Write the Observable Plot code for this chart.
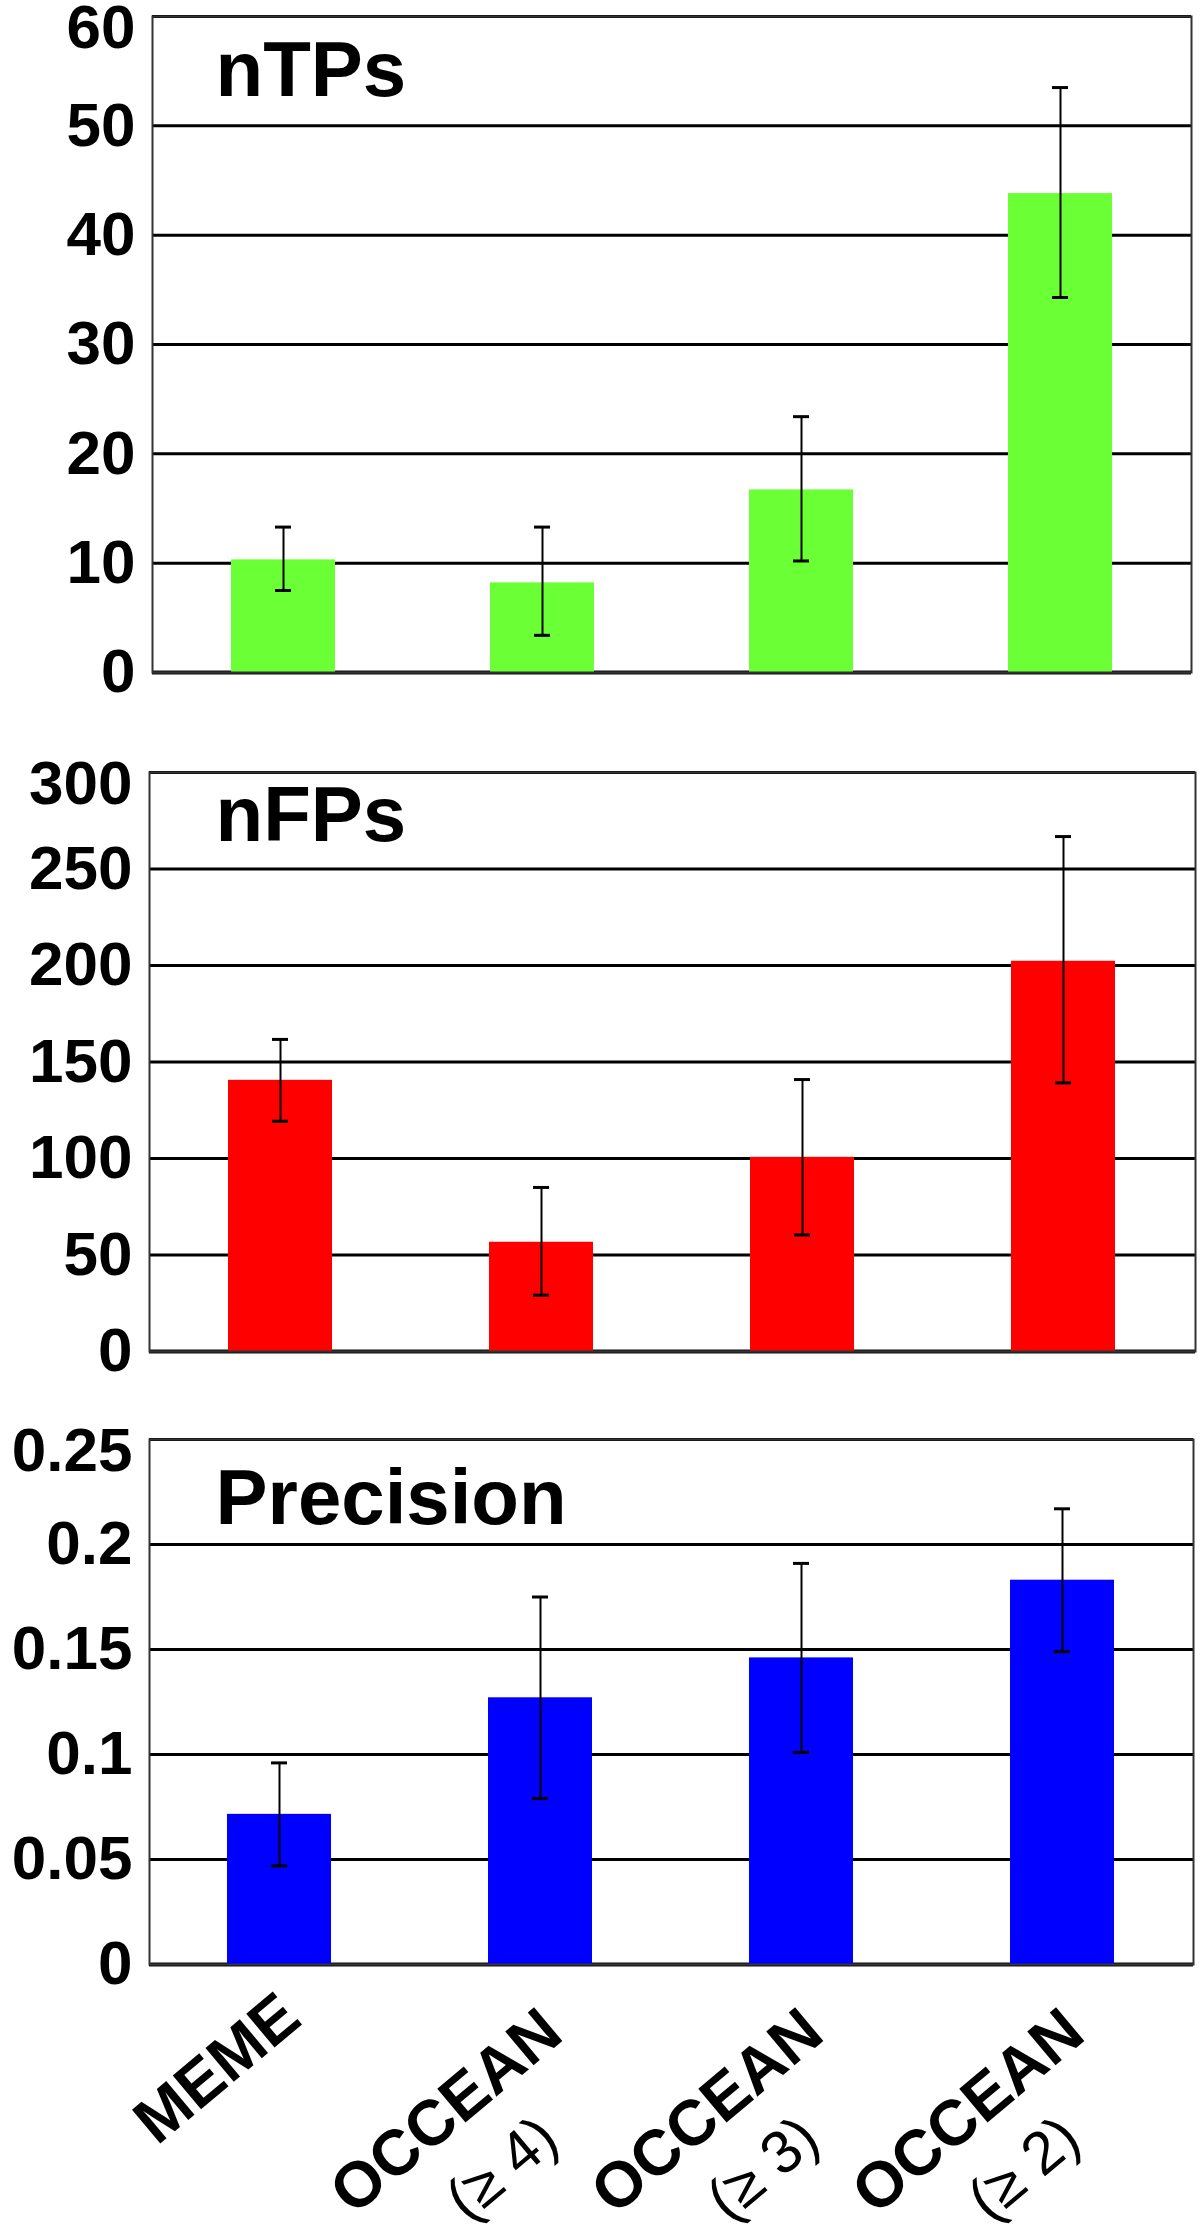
<!DOCTYPE html>
<html><head><meta charset="utf-8">
<script src="https://cdn.jsdelivr.net/npm/d3@7"></script>
<script src="https://cdn.jsdelivr.net/npm/@observablehq/plot@0.6"></script>
<style>
html,body{margin:0;padding:0;background:#fff}
#chart svg{display:block}
</style>
</head><body><div id="chart"></div>
<script>
// ---- data ----
const categories = ["MEME", "OCCEAN (≥ 4)", "OCCEAN (≥ 3)", "OCCEAN (≥ 2)"];
const labelLine1 = ["MEME", "OCCEAN", "OCCEAN", "OCCEAN"];
const labelLine2 = ["", "(≥ 4)", "(≥ 3)", "(≥ 2)"];

const nTPs     = [10.3, 8.2, 16.7, 43.8];
const nTPsLow  = [7.5, 3.4, 10.2, 34.3];
const nTPsHigh = [13.3, 13.3, 23.4, 53.5];

const nFPs     = [140.5, 56.6, 100.6, 202.2];
const nFPsLow  = [119.3, 29.2, 60.4, 139.2];
const nFPsHigh = [161.7, 85, 140.9, 266.8];

const precision     = [0.0715, 0.127, 0.146, 0.183];
const precisionLow  = [0.047, 0.079, 0.101, 0.149];
const precisionHigh = [0.096, 0.175, 0.191, 0.217];

const nTPsTicks = [0, 10, 20, 30, 40, 50, 60];
const nFPsTicks = [0, 50, 100, 150, 200, 250, 300];
const precisionTicks = [0, 0.05, 0.1, 0.15, 0.2, 0.25];
const precisionTickLabels = ["0", "0.05", "0.1", "0.15", "0.2", "0.25"];

const titles = ["nTPs", "nFPs", "Precision"];

const FONT = "'Liberation Sans', Arial, Helvetica, sans-serif";

function panel(o) {
  const rows = categories.map((c, i) => ({
    cat: c, v: o.values[i], lo: o.low[i], hi: o.high[i], l1: labelLine1[i], l2: labelLine2[i]
  }));
  const fmt = o.tickLabels ? (d => o.tickLabels[o.ticks.indexOf(d)]) : (d => String(d));
  const marks = [
    Plot.gridY(o.ticks, {stroke: "#000", strokeOpacity: 1, strokeWidth: 3}),
    Plot.ruleY([0], {stroke: "#111", strokeWidth: 4}),
    Plot.barY(rows, {x: "cat", y: "v", fill: o.color}),
    Plot.ruleX(rows, {x: "cat", y1: "lo", y2: "hi", stroke: "#000", strokeWidth: 2}),
    Plot.tickY(rows, {x: "cat", y: "hi", stroke: "#000", strokeWidth: 3, insetLeft: 44, insetRight: 44}),
    Plot.tickY(rows, {x: "cat", y: "lo", stroke: "#000", strokeWidth: 3, insetLeft: 44, insetRight: 44}),
    Plot.frame({stroke: "#333", strokeWidth: 2}),
    Plot.axisY(o.ticks.slice(0, -1), {tickSize: 0, tickPadding: 17, fontSize: 62, fontWeight: "bold", tickFormat: fmt, fill: "#000"}),
    Plot.axisY(o.ticks.slice(-1), {tickSize: 0, tickPadding: 17, fontSize: 62, fontWeight: "bold", tickFormat: fmt, dy: 12, fill: "#000"}),
    Plot.text([o.title], {text: d => d, frameAnchor: "top-left", textAnchor: "start", lineAnchor: "bottom",
      dx: o.titleDx, dy: o.titleDy, fontSize: 78, fontWeight: "bold", fill: "#000"})
  ];
  if (o.xLabels) {
    marks.push(
      Plot.text(rows.filter(d => !d.l2), {x: "cat", frameAnchor: "bottom", text: "l1", rotate: -40,
        textAnchor: "middle", lineAnchor: "bottom", dx: -49, dy: 120, fontSize: 64, fontWeight: "bold", fill: "#000"}),
      Plot.text(rows.filter(d => d.l2), {x: "cat", frameAnchor: "bottom", text: "l1", rotate: -40,
        textAnchor: "middle", lineAnchor: "bottom", dx: -81, dy: 163, fontSize: 64, fontWeight: "bold", fill: "#000"}),
      Plot.text(rows.filter(d => d.l2), {x: "cat", frameAnchor: "bottom", text: "l2", rotate: -40,
        textAnchor: "middle", lineAnchor: "bottom", dx: -26, dy: 219, fontSize: 60, fontWeight: "normal", fill: "#000"})
    );
  }
  return Plot.plot({
    width: 1200,
    height: o.height,
    marginTop: o.marginTop,
    marginBottom: o.marginBottom,
    marginLeft: o.marginLeft,
    marginRight: o.marginRight,
    style: {fontFamily: FONT, background: "#fff", color: "#000", overflow: "visible"},
    x: {domain: categories, paddingInner: 0.6, paddingOuter: 0.3, axis: null},
    y: {domain: [0, o.ticks[o.ticks.length - 1]]},
    marks
  });
}

const chart = document.getElementById("chart");
chart.append(panel({values: nTPs, low: nTPsLow, high: nTPsHigh, color: "#6bff35", ticks: nTPsTicks,
  title: titles[0], height: 720, marginTop: 16, marginBottom: 48, marginLeft: 152, marginRight: 9, titleDx: 63, titleDy: 79}));
chart.append(panel({values: nFPs, low: nFPsLow, high: nFPsHigh, color: "#ff0000", ticks: nFPsTicks,
  title: titles[1], height: 680, marginTop: 52, marginBottom: 49, marginLeft: 149, marginRight: 5, titleDx: 66, titleDy: 68}));
chart.append(panel({values: precision, low: precisionLow, high: precisionHigh, color: "#0000ff", ticks: precisionTicks,
  tickLabels: precisionTickLabels,
  title: titles[2], height: 837, marginTop: 39, marginBottom: 273, marginLeft: 149, marginRight: 7, titleDx: 66, titleDy: 84, xLabels: true}));
</script>
</body></html>
